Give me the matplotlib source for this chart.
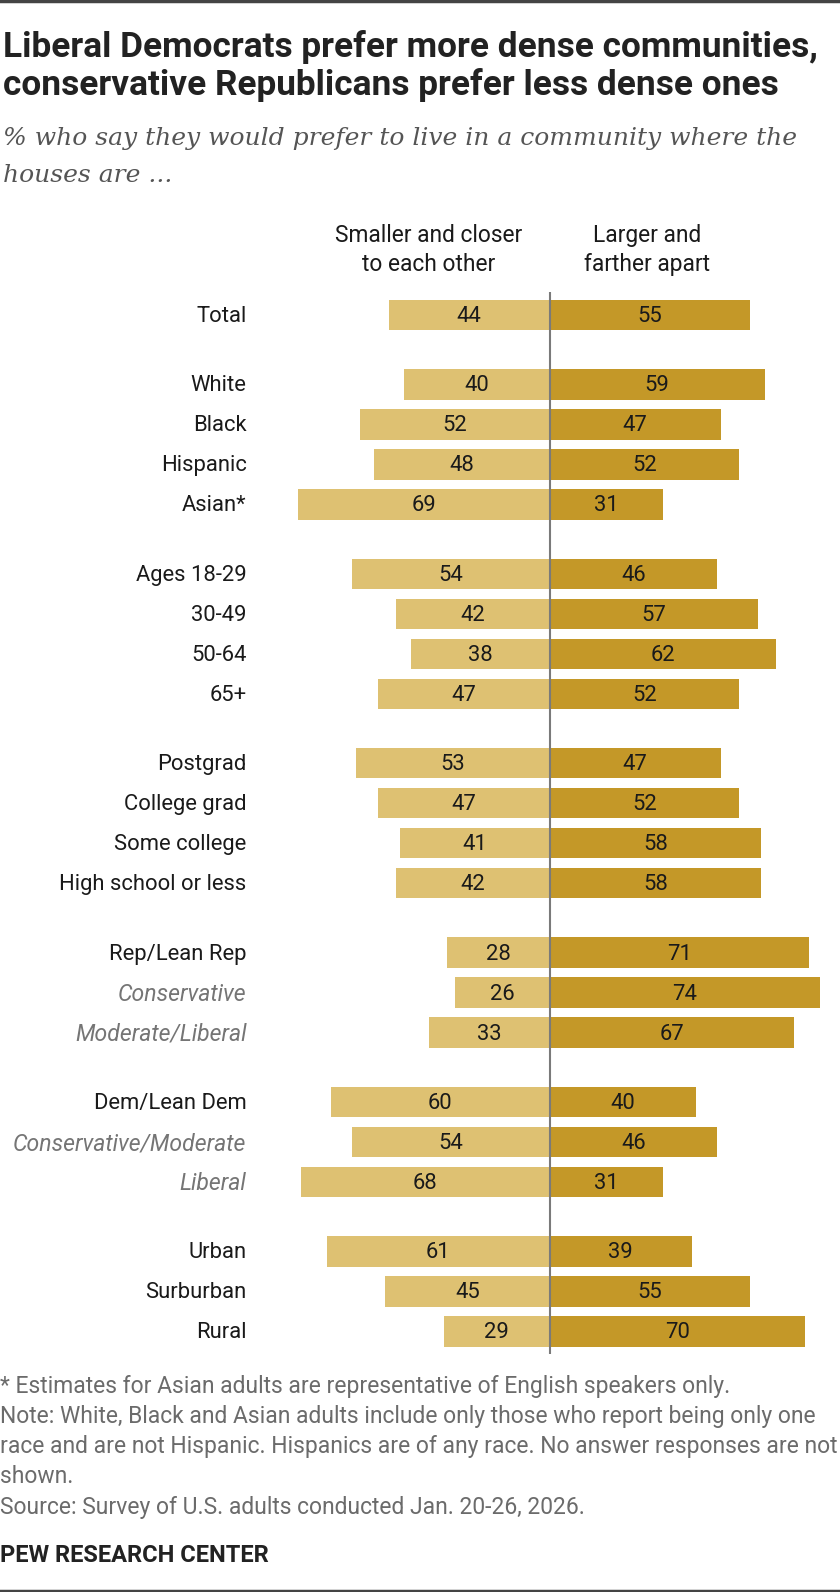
import matplotlib
matplotlib.use("Agg")
import matplotlib.pyplot as plt
from matplotlib import font_manager

# Data
labels = ["Total",
          "White", "Black", "Hispanic", "Asian*",
          "Ages 18-29", "30-49", "50-64", "65+",
          "Postgrad", "College grad", "Some college", "High school or less",
          "Rep/Lean Rep", "Conservative", "Moderate/Liberal",
          "Dem/Lean Dem", "Conservative/Moderate", "Liberal",
          "Urban", "Surburban", "Rural"]
group_sizes = [1, 4, 4, 4, 3, 3, 3]
italic_rows = ["Conservative", "Moderate/Liberal", "Conservative/Moderate", "Liberal"]
smaller_closer = [44, 40, 52, 48, 69, 54, 42, 38, 47, 53, 47, 41, 42, 28, 26, 33, 60, 54, 68, 61, 45, 29]
larger_apart = [55, 59, 47, 52, 31, 46, 57, 62, 52, 47, 52, 58, 58, 71, 74, 67, 40, 46, 31, 39, 55, 70]

LIGHT = "#DEC172"
DARK = "#C49828"

names = {f.name for f in font_manager.fontManager.ttflist}
sans = [f for f in ["Roboto", "DejaVu Sans"] if f in names]
serif = [f for f in ["DejaVu Serif", "Liberation Serif"] if f in names]
plt.rcParams["font.family"] = sans

W, H = 840, 1592
fig = plt.figure(figsize=(W / 100, H / 100), dpi=100)

# overlay in pixel coordinates for the text around the chart
bg = fig.add_axes([0, 0, 1, 1])
bg.set_xlim(0, W)
bg.set_ylim(H, 0)
bg.axis("off")

# chart axes: x in percent, y in pixels
center_px = 549.5
px_per_pt = 3.65
ax = fig.add_axes([0, 0, 1, 1], facecolor="none")
ax.set_xlim(-center_px / px_per_pt, (W - center_px) / px_per_pt)
ax.set_ylim(H, 0)
ax.axis("off")

# row positions
row_step, group_gap = 40.0, 29.4
ys = []
y = 315.0
for gi, n in enumerate(group_sizes):
    for k in range(n):
        ys.append(y)
        y += row_step
    y += group_gap

fs = 15.8
bh = 30.5
ax.barh(ys, [-v for v in smaller_closer], height=bh, color=LIGHT, linewidth=0)
ax.barh(ys, larger_apart, height=bh, color=DARK, linewidth=0)
ax.plot([0, 0], [292, 1354], color="#7a7a7a", lw=1.5, solid_capstyle="butt")

for yy, l, r, lab in zip(ys, smaller_closer, larger_apart, labels):
    ty = yy + 1.5
    ax.text(-l / 2, ty, str(l), ha="center", va="center", fontsize=fs, color="#1a1a1a")
    ax.text(r / 2, ty, str(r), ha="center", va="center", fontsize=fs, color="#1a1a1a")
    if lab in italic_rows:
        ax.text(-83, ty, lab, ha="right", va="center", fontsize=fs + 0.8, color="#757575", style="italic")
    else:
        ax.text(-83, ty, lab, ha="right", va="center", fontsize=fs, color="#1a1a1a")

# column headers
bg.text(429, 250, "Smaller and closer\nto each other", ha="center", va="center",
        fontsize=16.4, color="#1a1a1a", linespacing=1.3)
bg.text(647, 250, "Larger and\nfarther apart", ha="center", va="center",
        fontsize=16.4, color="#1a1a1a", linespacing=1.3)

# title / subtitle
bg.text(3, 47, "Liberal Democrats prefer more dense communities,", fontsize=25.4, weight="bold",
        color="#222222", va="center")
bg.text(3, 85, "conservative Republicans prefer less dense ones", fontsize=25.4, weight="bold",
        color="#222222", va="center")
bg.text(3, 138, "% who say they would prefer to live in a community where the", fontsize=18,
        style="italic", family=serif, color="#555555", va="center")
bg.text(3, 176, "houses are ...", fontsize=18, style="italic", family=serif,
        color="#555555", va="center")

# notes
notes = ["* Estimates for Asian adults are representative of English speakers only.",
         "Note: White, Black and Asian adults include only those who report being only one",
         "race and are not Hispanic. Hispanics are of any race. No answer responses are not",
         "shown.",
         "Source: Survey of U.S. adults conducted Jan. 20-26, 2026."]
for i, t in enumerate(notes):
    bg.text(0, 1386 + i * 30.3, t, fontsize=16.5, color="#6b6b6b", va="center")
bg.text(0, 1555, "PEW RESEARCH CENTER", fontsize=17, weight="bold", color="#222222", va="center")

# frame lines top and bottom
bg.plot([0, W], [1, 1], color="#444444", lw=2.5)
bg.plot([0, W], [1590.5, 1590.5], color="#444444", lw=2.5)

fig.savefig("out.png", dpi=100)
